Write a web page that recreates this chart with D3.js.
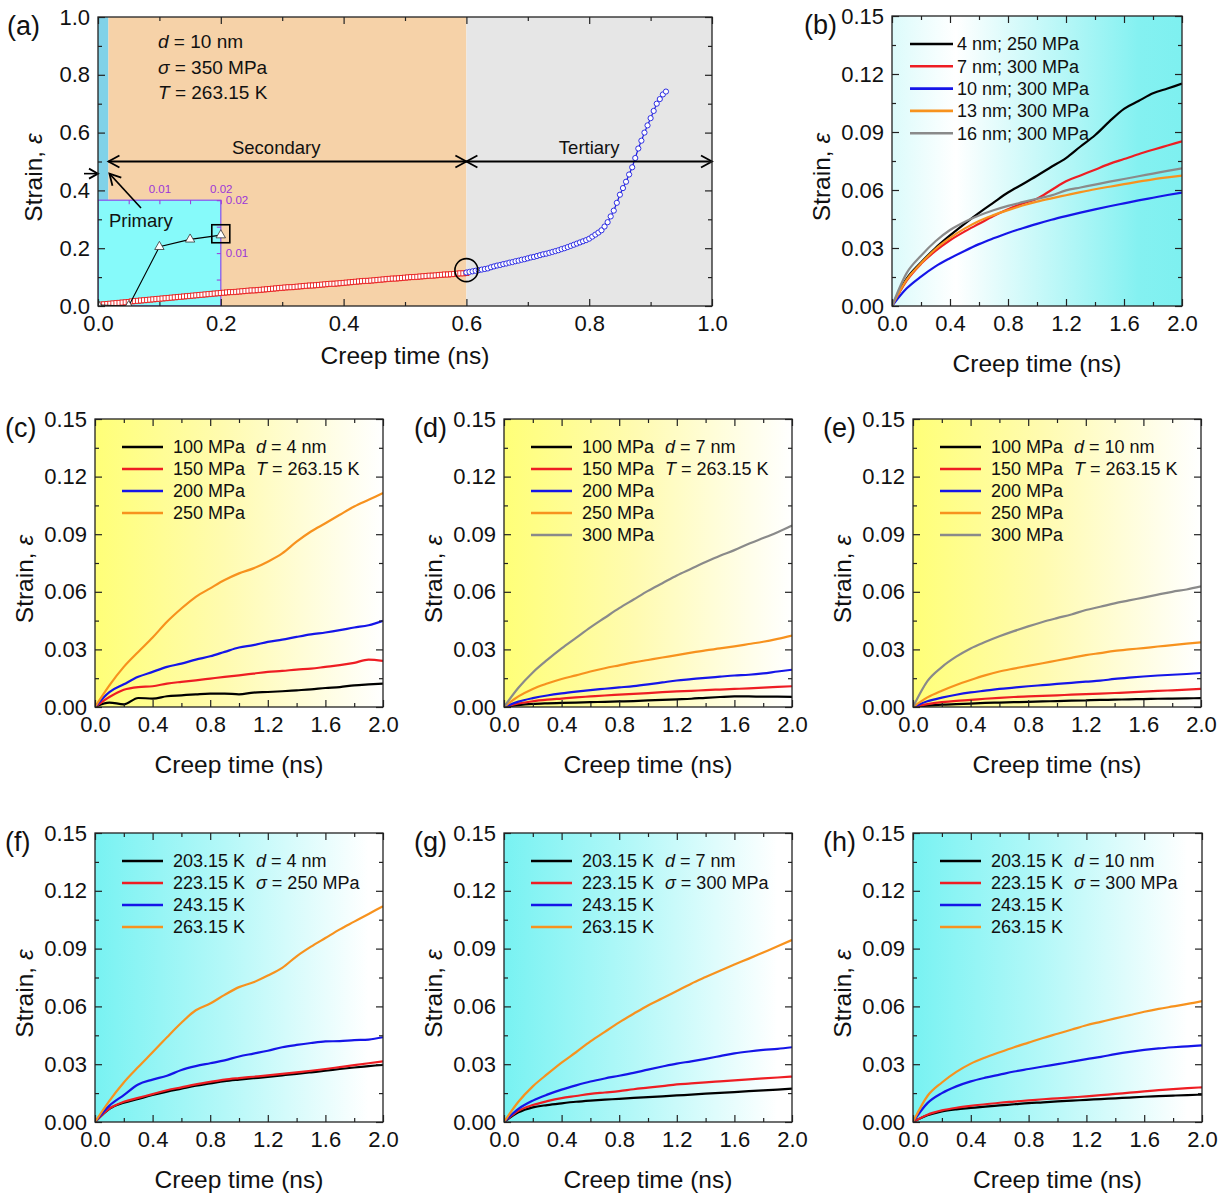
<!DOCTYPE html>
<html><head><meta charset="utf-8">
<script src="https://cdn.jsdelivr.net/npm/d3@7"></script>
<style>
body{margin:0;background:#fff}
text{font-family:"Liberation Sans",Arial,Helvetica,sans-serif}
</style>
</head><body><script>
// ---------------- DATA ----------------
// Panel (a): secondary stage (red squares) sampled every 0.005 ns from 0
const aDt = 0.005;
const aSecondary = [0.004,0.005,0.006,0.007,0.008,0.009,0.010,0.011,0.012,0.013,0.014,0.016,0.017,0.018,0.019,0.020,0.021,0.022,0.023,0.024,0.025,
0.026,0.027,0.028,0.029,0.030,0.031,0.032,0.033,0.034,0.035,0.036,0.037,0.038,0.039,0.040,0.041,0.042,0.043,0.044,0.045,
0.046,0.047,0.048,0.048,0.049,0.050,0.051,0.052,0.053,0.054,0.054,0.055,0.056,0.057,0.058,0.059,0.060,0.061,0.062,0.063,
0.064,0.065,0.065,0.066,0.067,0.068,0.069,0.070,0.071,0.071,0.072,0.073,0.074,0.075,0.076,0.077,0.077,0.078,0.079,0.080,
0.081,0.082,0.083,0.084,0.085,0.086,0.087,0.087,0.088,0.089,0.090,0.091,0.092,0.093,0.094,0.095,0.095,0.096,0.097,0.098,
0.099,0.100,0.100,0.101,0.102,0.103,0.104,0.105,0.105,0.106,0.107,0.108,0.109,0.109,0.110,0.111,0.112,0.113,0.113,0.114];
// Panel (a): tertiary stage (blue circles) sampled every 0.005 ns from 0.6 ns
const aTertStart = 0.6;
const aTertiary = [0.116,0.118,0.120,0.122,0.124,0.126,0.128,0.130,0.134,0.137,0.140,0.142,0.145,0.147,0.150,0.152,0.155,0.157,0.160,0.162,
0.165,0.168,0.170,0.173,0.176,0.179,0.181,0.184,0.187,0.190,0.193,0.197,0.200,0.204,0.208,0.212,0.216,0.220,0.224,0.228,
0.233,0.240,0.247,0.254,0.262,0.275,0.290,0.310,0.330,0.357,0.385,0.408,0.430,0.455,0.480,0.512,0.545,0.572,0.600,0.625,
0.650,0.675,0.700,0.716,0.732,0.742];
// Panel (a) inset: primary stage
const insetTime = [0, 0.005, 0.01, 0.015, 0.02];
const insetStrain = [0.0002, 0, 0.0112, 0.0126, 0.0134];

// Common time grid (ns) for panels (b)-(h)
const tGrid = [0,0.1,0.2,0.3,0.4,0.5,0.6,0.7,0.8,0.9,1.0,1.1,1.2,1.3,1.4,1.5,1.6,1.7,1.8,1.9,2.0];

// Panel (b)
const bLabels = ["4 nm; 250 MPa","7 nm; 300 MPa","10 nm; 300 MPa","13 nm; 300 MPa","16 nm; 300 MPa"];
const b4  = [0,0.0140,0.0225,0.0300,0.0365,0.0425,0.0482,0.0535,0.0587,0.0630,0.0674,0.0720,0.0765,0.0825,0.0883,0.0955,0.1020,0.1060,0.1100,0.1125,0.1150];
const b7  = [0,0.0130,0.0218,0.0285,0.0340,0.0385,0.0425,0.0465,0.0500,0.0530,0.0555,0.0600,0.0645,0.0675,0.0705,0.0735,0.0760,0.0785,0.0808,0.0830,0.0852];
const b10 = [0,0.0090,0.0152,0.0205,0.0247,0.0285,0.0320,0.0350,0.0378,0.0402,0.0425,0.0446,0.0465,0.0483,0.0500,0.0516,0.0531,0.0546,0.0560,0.0574,0.0587];
const b13 = [0,0.0135,0.0221,0.0295,0.0352,0.0400,0.0440,0.0470,0.0496,0.0520,0.0540,0.0557,0.0573,0.0589,0.0604,0.0617,0.0630,0.0643,0.0655,0.0665,0.0674];
const b16 = [0,0.0169,0.0260,0.0335,0.0393,0.0435,0.0468,0.0495,0.0518,0.0537,0.0555,0.0572,0.0598,0.0613,0.0628,0.0643,0.0657,0.0671,0.0685,0.0699,0.0712];

// Panels (c)-(e): stress series
const stressLabels = ["100 MPa","150 MPa","200 MPa","250 MPa","300 MPa"];
const c100 = [0,0.0023,0.0014,0.0047,0.0044,0.0056,0.0061,0.0066,0.0070,0.0070,0.0066,0.0075,0.0078,0.0082,0.0087,0.0092,0.0099,0.0104,0.0113,0.0118,0.0122];
const c150 = [0,0.0052,0.0090,0.0104,0.0108,0.0122,0.0131,0.0139,0.0148,0.0157,0.0165,0.0174,0.0183,0.0188,0.0195,0.0200,0.0209,0.0218,0.0230,0.0247,0.0240];
const c200 = [0,0.0078,0.0118,0.0157,0.0183,0.0209,0.0226,0.0247,0.0264,0.0287,0.0310,0.0322,0.0339,0.0351,0.0365,0.0378,0.0388,0.0400,0.0414,0.0426,0.0449];
const c250 = [0,0.0113,0.0209,0.0287,0.0362,0.0444,0.0513,0.0574,0.0618,0.0661,0.0696,0.0722,0.0757,0.0800,0.0861,0.0914,0.0957,0.1001,0.1044,0.1079,0.1114];

const d100 = [0,0.0010,0.0016,0.0019,0.0021,0.0023,0.0025,0.0027,0.0029,0.0031,0.0034,0.0037,0.0040,0.0043,0.0048,0.0052,0.0055,0.0055,0.0054,0.0054,0.0053];
const d150 = [0,0.0018,0.0030,0.0038,0.0044,0.0050,0.0055,0.0060,0.0064,0.0068,0.0072,0.0077,0.0081,0.0084,0.0088,0.0091,0.0094,0.0097,0.0101,0.0105,0.0108];
const d200 = [0,0.0028,0.0046,0.0060,0.0071,0.0080,0.0088,0.0095,0.0102,0.0109,0.0118,0.0128,0.0138,0.0145,0.0152,0.0158,0.0164,0.0168,0.0175,0.0185,0.0194];
const d250 = [0,0.0055,0.0094,0.0122,0.0146,0.0165,0.0185,0.0202,0.0217,0.0232,0.0245,0.0258,0.0270,0.0283,0.0295,0.0305,0.0316,0.0328,0.0340,0.0355,0.0372];
const d300 = [0,0.0100,0.0180,0.0245,0.0305,0.0360,0.0415,0.0465,0.0515,0.0560,0.0605,0.0645,0.0685,0.0720,0.0755,0.0788,0.0817,0.0850,0.0880,0.0910,0.0945];

const e100 = [0,0.0007,0.0012,0.0015,0.0018,0.0021,0.0023,0.0025,0.0027,0.0029,0.0031,0.0033,0.0035,0.0037,0.0038,0.0040,0.0041,0.0043,0.0044,0.0045,0.0046];
const e150 = [0,0.0015,0.0025,0.0032,0.0037,0.0043,0.0048,0.0052,0.0055,0.0058,0.0061,0.0064,0.0067,0.0070,0.0073,0.0076,0.0080,0.0084,0.0087,0.0090,0.0094];
const e200 = [0,0.0030,0.0049,0.0064,0.0076,0.0085,0.0094,0.0101,0.0108,0.0114,0.0120,0.0126,0.0132,0.0137,0.0146,0.0153,0.0159,0.0164,0.0168,0.0172,0.0177];
const e250 = [0,0.0050,0.0085,0.0115,0.0141,0.0165,0.0185,0.0200,0.0214,0.0228,0.0242,0.0256,0.0270,0.0281,0.0292,0.0300,0.0307,0.0315,0.0322,0.0330,0.0337];
const e300 = [0,0.0135,0.0208,0.0262,0.0305,0.0338,0.0368,0.0395,0.0420,0.0443,0.0463,0.0482,0.0505,0.0522,0.0540,0.0555,0.0570,0.0585,0.0600,0.0612,0.0628];

// Panels (f)-(h): temperature series
const tempLabels = ["203.15 K","223.15 K","243.15 K","263.15 K"];
const f203 = [0,0.0068,0.0100,0.0120,0.0140,0.0158,0.0173,0.0188,0.0200,0.0212,0.0220,0.0227,0.0234,0.0242,0.0250,0.0258,0.0266,0.0275,0.0283,0.0290,0.0297];
const f223 = [0,0.0070,0.0105,0.0125,0.0145,0.0165,0.0180,0.0195,0.0208,0.0220,0.0228,0.0235,0.0242,0.0250,0.0258,0.0266,0.0275,0.0285,0.0295,0.0305,0.0315];
const f243 = [0,0.0085,0.0140,0.0195,0.0220,0.0240,0.0270,0.0290,0.0305,0.0320,0.0340,0.0355,0.0370,0.0388,0.0400,0.0410,0.0418,0.0420,0.0425,0.0428,0.0440];
const f263 = [0,0.0110,0.0205,0.0285,0.0362,0.0440,0.0515,0.0580,0.0615,0.0660,0.0700,0.0725,0.0760,0.0800,0.0860,0.0910,0.0955,0.1000,0.1040,0.1080,0.1120];

const g203 = [0,0.0050,0.0076,0.0088,0.0097,0.0105,0.0111,0.0116,0.0120,0.0125,0.0129,0.0133,0.0138,0.0142,0.0147,0.0151,0.0155,0.0160,0.0164,0.0168,0.0173];
const g223 = [0,0.0058,0.0088,0.0108,0.0124,0.0135,0.0146,0.0153,0.0160,0.0170,0.0178,0.0186,0.0195,0.0200,0.0206,0.0211,0.0216,0.0221,0.0226,0.0231,0.0236];
const g243 = [0,0.0068,0.0111,0.0142,0.0168,0.0190,0.0210,0.0226,0.0240,0.0255,0.0272,0.0288,0.0303,0.0315,0.0328,0.0342,0.0356,0.0366,0.0374,0.0380,0.0388];
const g263 = [0,0.0105,0.0185,0.0248,0.0308,0.0362,0.0418,0.0468,0.0517,0.0562,0.0605,0.0642,0.0680,0.0718,0.0752,0.0785,0.0817,0.0848,0.0880,0.0912,0.0945];

const h203 = [0,0.0035,0.0055,0.0066,0.0073,0.0080,0.0086,0.0092,0.0098,0.0102,0.0107,0.0111,0.0115,0.0119,0.0123,0.0127,0.0131,0.0134,0.0137,0.0140,0.0142];
const h223 = [0,0.0038,0.0060,0.0074,0.0084,0.0092,0.0100,0.0106,0.0112,0.0118,0.0123,0.0128,0.0133,0.0139,0.0146,0.0152,0.0159,0.0165,0.0171,0.0176,0.0180];
const h243 = [0,0.0098,0.0150,0.0185,0.0211,0.0230,0.0246,0.0262,0.0275,0.0288,0.0300,0.0313,0.0326,0.0338,0.0352,0.0364,0.0374,0.0382,0.0388,0.0393,0.0398];
const h263 = [0,0.0135,0.0205,0.0260,0.0303,0.0335,0.0362,0.0388,0.0412,0.0436,0.0458,0.0480,0.0502,0.0520,0.0538,0.0555,0.0572,0.0587,0.0600,0.0613,0.0628];

// Ticks
const aMajor = [0,0.2,0.4,0.6,0.8,1.0];
const aMinor = [0.1,0.3,0.5,0.7,0.9];
const tMajor = [0,0.4,0.8,1.2,1.6,2.0];
const tMinor = [0.2,0.6,1.0,1.4,1.8];
const sMajor = [0,0.03,0.06,0.09,0.12,0.15];
const sMinor = [0.015,0.045,0.075,0.105,0.135];

// ---------------- DRAW ----------------
const colors = {black:"#000000", red:"#ee1d23", blue:"#1515e8", orange:"#f7921e", gray:"#8a8a8a"};
const INK = "#111";
const svg = d3.select("body").append("svg").attr("width",1228).attr("height",1194);
const defs = svg.append("defs");
function grad(id, stops){
  const lg = defs.append("linearGradient").attr("id",id).attr("x1",0).attr("x2",1).attr("y1",0).attr("y2",0);
  stops.forEach(s=>lg.append("stop").attr("offset",s[0]).attr("stop-color",s[1]));
}
grad("gB",[[0,"#dcfbfb"],[0.22,"#ffffff"],[0.85,"#84f1f1"],[1,"#7ef0f0"]]);
grad("gY",[[0,"#ffff78"],[0.45,"#fffbb0"],[1,"#ffffff"]]);
grad("gC",[[0,"#78f2f2"],[0.45,"#b4f8f8"],[0.95,"#ffffff"],[1,"#ffffff"]]);

let clipN = 0;
function panel(p){
  const {box} = p;
  const x = d3.scaleLinear(p.xDomain, [box.l, box.r]);
  const y = d3.scaleLinear(p.yDomain, [box.b, box.t]);
  const g = svg.append("g");
  const cid = "clip"+(clipN++);
  g.append("clipPath").attr("id",cid).append("rect")
    .attr("x",box.l).attr("y",box.t).attr("width",box.r-box.l).attr("height",box.b-box.t);
  if (p.fill) g.append("rect").attr("x",box.l).attr("y",box.t).attr("width",box.r-box.l).attr("height",box.b-box.t).attr("fill",p.fill);
  const inner = g.append("g").attr("clip-path",`url(#${cid})`);
  if (p.content) p.content(inner, x, y, g);
  (p.series||[]).forEach(s=>{
    inner.append("path")
      .datum(tGrid.map((t,i)=>[t,s.values[i]]))
      .attr("fill","none").attr("stroke",s.color).attr("stroke-width",2.2)
      .attr("stroke-linejoin","round")
      .attr("d", d3.line().x(d=>x(d[0])).y(d=>y(d[1])).curve(d3.curveMonotoneX));
  });
  // axes
  const ax = g.append("g").attr("class","axes");
  function styl(sel){ sel.select(".domain").remove(); sel.selectAll("line").attr("stroke","#222").attr("stroke-width",1.2);
    sel.attr("font-size",22).attr("font-family",'"Liberation Sans",Arial,sans-serif'); sel.selectAll("text").attr("fill",INK); }
  ax.append("g").attr("transform",`translate(0,${box.b})`).call(d3.axisBottom(x).tickValues(p.xMajor).tickSize(-7).tickPadding(9).tickFormat(d3.format(p.xFmt))).call(styl);
  ax.append("g").attr("transform",`translate(0,${box.b})`).call(d3.axisBottom(x).tickValues(p.xMinor).tickSize(-4).tickFormat("")).call(styl);
  ax.append("g").attr("transform",`translate(0,${box.t})`).call(d3.axisTop(x).tickValues(p.xMajor).tickSize(-7).tickFormat("")).call(styl);
  ax.append("g").attr("transform",`translate(0,${box.t})`).call(d3.axisTop(x).tickValues(p.xMinor).tickSize(-4).tickFormat("")).call(styl);
  ax.append("g").attr("transform",`translate(${box.l},0)`).call(d3.axisLeft(y).tickValues(p.yMajor).tickSize(-7).tickPadding(8).tickFormat(d3.format(p.yFmt))).call(styl);
  ax.append("g").attr("transform",`translate(${box.l},0)`).call(d3.axisLeft(y).tickValues(p.yMinor).tickSize(-4).tickFormat("")).call(styl);
  ax.append("g").attr("transform",`translate(${box.r},0)`).call(d3.axisRight(y).tickValues(p.yMajor).tickSize(-7).tickFormat("")).call(styl);
  ax.append("g").attr("transform",`translate(${box.r},0)`).call(d3.axisRight(y).tickValues(p.yMinor).tickSize(-4).tickFormat("")).call(styl);
  g.append("rect").attr("x",box.l).attr("y",box.t).attr("width",box.r-box.l).attr("height",box.b-box.t)
    .attr("fill","none").attr("stroke","#222").attr("stroke-width",1.3);
  // titles
  g.append("text").attr("x",(box.l+box.r)/2).attr("y",box.b+(p.xtOff||66)).attr("text-anchor","middle")
    .attr("font-size",24.5).attr("fill",INK).text("Creep time (ns)");
  const yt = g.append("text").attr("text-anchor","middle").attr("font-size",24.5).attr("fill",INK)
    .attr("transform",`translate(${box.l-(p.ytOff||62)},${(box.t+box.b)/2+16}) rotate(-90)`);
  yt.append("tspan").text("Strain, ");
  yt.append("tspan").attr("font-style","italic").text("ε");
  g.append("text").attr("x",p.labelPos[0]).attr("y",p.labelPos[1]).attr("font-size",27).attr("fill",INK).text(p.label);
  // legend
  if (p.legend){
    const L = p.legend;
    (p.series||[]).forEach((s,i)=>{
      const yy = box.t + L.y0 + L.dy*i;
      g.append("line").attr("x1",box.l+L.lx0).attr("x2",box.l+L.lx1).attr("y1",yy).attr("y2",yy)
        .attr("stroke",s.color).attr("stroke-width",2.6);
      g.append("text").attr("x",box.l+L.tx).attr("y",yy).attr("dy","0.35em").attr("font-size",18).attr("fill",INK).text(s.label);
    });
    (L.notes||[]).forEach((n,i)=>{
      const t = g.append("text").attr("x",box.l+L.nx).attr("y",box.t+L.y0+L.dy*i).attr("dy","0.35em").attr("font-size",18).attr("fill",INK);
      t.append("tspan").attr("font-style","italic").text(n[0]);
      t.append("tspan").text(n[1]);
    });
  }
  return {g,x,y};
}

function chevron(g, tipX, tipY, angle, len=11, half=6){
  const ca=Math.cos(angle), sa=Math.sin(angle);
  const bx = tipX - len*ca, by = tipY - len*sa;
  const p1=[bx - half*(-sa), by - half*ca], p2=[bx + half*(-sa), by + half*ca];
  g.append("polyline").attr("points",`${p1[0]},${p1[1]} ${tipX},${tipY} ${p2[0]},${p2[1]}`)
    .attr("fill","none").attr("stroke","#000").attr("stroke-width",1.8);
}

// Panel (a)
panel({
  box:{l:98,r:712,t:17,b:306}, xDomain:[0,1], yDomain:[0,1],
  xMajor:aMajor, xMinor:aMinor, yMajor:aMajor, yMinor:aMinor, xFmt:".1f", yFmt:".1f",
  xtOff:58, ytOff:56, label:"(a)", labelPos:[7,35],
  content:(inner,x,y,g)=>{
    inner.append("rect").attr("x",x(0)).attr("y",y(1)).attr("width",x(0.017)-x(0)).attr("height",y(0)-y(1)).attr("fill","#80d2e8");
    inner.append("rect").attr("x",x(0.017)).attr("y",y(1)).attr("width",x(0.6)-x(0.017)).attr("height",y(0)-y(1)).attr("fill","#f6d2a8");
    inner.append("rect").attr("x",x(0.6)).attr("y",y(1)).attr("width",x(1)-x(0.6)).attr("height",y(0)-y(1)).attr("fill","#e6e6e6");
    // inset
    const ix = d3.scaleLinear([0,0.02],[x(0),x(0.2)]);
    const iy = d3.scaleLinear([0,0.02],[y(0),y(0.366)]);
    inner.append("rect").attr("x",ix(0)).attr("y",iy(0.02)).attr("width",ix(0.02)-ix(0)).attr("height",iy(0)-iy(0.02))
      .attr("fill","#86fafa").attr("stroke","#8a5cf0").attr("stroke-width",1.3);
    const purple="#9b35d8";
    const it = g.append("g");
    const istyle = s=>{s.select(".domain").remove(); s.selectAll("line").attr("stroke",purple);
      s.attr("font-size",11.5).attr("font-family",'"Liberation Sans",Arial,sans-serif'); s.selectAll("text").attr("fill",purple);};
    it.append("g").attr("transform",`translate(0,${iy(0.02)})`)
      .call(d3.axisTop(ix).tickValues([0.005,0.01,0.015,0.02]).tickSize(-4).tickPadding(7).tickFormat(d=>[0.01,0.02].includes(d)?d3.format(".2f")(d):""))
      .call(istyle);
    it.append("g").attr("transform",`translate(${ix(0.02)},0)`)
      .call(d3.axisRight(iy).tickValues([0.005,0.01,0.015,0.02]).tickSize(-4).tickPadding(5).tickFormat(d=>[0.01,0.02].includes(d)?d3.format(".2f")(d):""))
      .call(istyle);
    // secondary (red squares)
    const sec = aSecondary.map((v,i)=>[i*aDt, v]);
    inner.append("path").datum(sec).attr("fill","none").attr("stroke","#e82020").attr("stroke-width",1)
      .attr("d", d3.line().x(d=>x(d[0])).y(d=>y(d[1])));
    inner.selectAll(".sq").data(sec).join("rect").attr("x",d=>x(d[0])-2.5).attr("y",d=>y(d[1])-2.5)
      .attr("width",5).attr("height",5).attr("fill","#fff").attr("stroke","#e82020").attr("stroke-width",0.9);
    // inset data
    const ins = insetTime.map((t,i)=>[t, insetStrain[i]]);
    inner.append("path").datum(ins).attr("fill","none").attr("stroke","#000").attr("stroke-width",1.1)
      .attr("d", d3.line().x(d=>ix(d[0])).y(d=>iy(d[1])));
    inner.selectAll(".tri").data(ins).join("path")
      .attr("transform",d=>`translate(${ix(d[0])},${iy(d[1])})`)
      .attr("d", d3.symbol(d3.symbolTriangle, 38)).attr("fill","#fff").attr("stroke","#333").attr("stroke-width",0.8);
    // tertiary (blue circles)
    const ter = aTertiary.map((v,i)=>[aTertStart + i*aDt, v]);
    inner.append("path").datum(ter).attr("fill","none").attr("stroke","#1a1ae0").attr("stroke-width",1.2)
      .attr("d", d3.line().x(d=>x(d[0])).y(d=>y(d[1])));
    inner.selectAll(".ci").data(ter).join("circle").attr("cx",d=>x(d[0])).attr("cy",d=>y(d[1])).attr("r",2.6)
      .attr("fill","#fff").attr("stroke","#1a1ae0").attr("stroke-width",0.9);
    // marks
    g.append("rect").attr("x",x(0.2)-9).attr("y",y(0.25)-9).attr("width",18).attr("height",18)
      .attr("fill","none").attr("stroke","#000").attr("stroke-width",1.6);
    g.append("circle").attr("cx",x(0.6)).attr("cy",y(0.124)).attr("r",11.5)
      .attr("fill","none").attr("stroke","#000").attr("stroke-width",1.6);
    // arrows
    const ya = y(0.5);
    g.append("line").attr("x1",x(0.017)).attr("x2",x(0.6)).attr("y1",ya).attr("y2",ya).attr("stroke","#000").attr("stroke-width",1.8);
    g.append("line").attr("x1",x(0.6)).attr("x2",x(1)).attr("y1",ya).attr("y2",ya).attr("stroke","#000").attr("stroke-width",1.8);
    chevron(g, x(0.017), ya, Math.PI);
    chevron(g, x(0.6), ya, 0);
    chevron(g, x(0.6), ya, Math.PI);
    chevron(g, x(1), ya, 0);
    const yl = y(0.458);
    g.append("line").attr("x1",x(0)-14).attr("x2",x(0)).attr("y1",yl).attr("y2",yl).attr("stroke","#000").attr("stroke-width",1.6);
    chevron(g, x(0), yl, 0, 9, 5);
    const p0=[141,208], p1=[x(0.017)+1, y(0.458)];
    g.append("line").attr("x1",p0[0]).attr("y1",p0[1]).attr("x2",p1[0]).attr("y2",p1[1]).attr("stroke","#000").attr("stroke-width",1.6);
    chevron(g, p1[0], p1[1], Math.atan2(p1[1]-p0[1], p1[0]-p0[0]), 11, 6);
    g.append("text").attr("x",x(0.3)-6).attr("y",154).attr("text-anchor","middle").attr("font-size",18.5).attr("fill",INK).text("Secondary");
    g.append("text").attr("x",x(0.8)).attr("y",154).attr("text-anchor","middle").attr("font-size",18.5).attr("fill",INK).text("Tertiary");
    g.append("text").attr("x",109).attr("y",227).attr("font-size",18.5).attr("fill",INK).text("Primary");
    const notes = [["d"," = 10 nm",48],["σ"," = 350 MPa",74],["T"," = 263.15 K",99]];
    notes.forEach(n=>{
      const t = g.append("text").attr("x",158).attr("y",n[2]).attr("font-size",19).attr("fill",INK);
      t.append("tspan").attr("font-style","italic").text(n[0]);
      t.append("tspan").text(n[1]);
    });
  }
});

// Panel (b)
panel({
  box:{l:892,r:1182,t:16,b:306}, xDomain:[0,2], yDomain:[0,0.15], fill:"url(#gB)",
  xMajor:tMajor, xMinor:tMinor, yMajor:sMajor, yMinor:sMinor, xFmt:".1f", yFmt:".2f",
  label:"(b)", labelPos:[804,34],
  series:[{label:bLabels[0],values:b4,color:colors.black},{label:bLabels[1],values:b7,color:colors.red},
          {label:bLabels[2],values:b10,color:colors.blue},{label:bLabels[3],values:b13,color:colors.orange},
          {label:bLabels[4],values:b16,color:colors.gray}],
  legend:{y0:28,dy:22.3,lx0:18,lx1:61,tx:65}
});

// Panels (c)-(e)
const rowLeg = (notes)=>({y0:28,dy:22,lx0:27,lx1:68,tx:78,nx:161,notes});
panel({
  box:{l:95,r:383,t:419,b:707}, xDomain:[0,2], yDomain:[0,0.15], fill:"url(#gY)",
  xMajor:tMajor, xMinor:tMinor, yMajor:sMajor, yMinor:sMinor, xFmt:".1f", yFmt:".2f",
  label:"(c)", labelPos:[5,437],
  series:[{label:stressLabels[0],values:c100,color:colors.black},{label:stressLabels[1],values:c150,color:colors.red},
          {label:stressLabels[2],values:c200,color:colors.blue},{label:stressLabels[3],values:c250,color:colors.orange}],
  legend:rowLeg([["d"," = 4 nm"],["T"," = 263.15 K"]])
});
panel({
  box:{l:504,r:792,t:419,b:707}, xDomain:[0,2], yDomain:[0,0.15], fill:"url(#gY)",
  xMajor:tMajor, xMinor:tMinor, yMajor:sMajor, yMinor:sMinor, xFmt:".1f", yFmt:".2f",
  label:"(d)", labelPos:[414,437],
  series:[{label:stressLabels[0],values:d100,color:colors.black},{label:stressLabels[1],values:d150,color:colors.red},
          {label:stressLabels[2],values:d200,color:colors.blue},{label:stressLabels[3],values:d250,color:colors.orange},
          {label:stressLabels[4],values:d300,color:colors.gray}],
  legend:rowLeg([["d"," = 7 nm"],["T"," = 263.15 K"]])
});
panel({
  box:{l:913,r:1201,t:419,b:707}, xDomain:[0,2], yDomain:[0,0.15], fill:"url(#gY)",
  xMajor:tMajor, xMinor:tMinor, yMajor:sMajor, yMinor:sMinor, xFmt:".1f", yFmt:".2f",
  label:"(e)", labelPos:[823,437],
  series:[{label:stressLabels[0],values:e100,color:colors.black},{label:stressLabels[1],values:e150,color:colors.red},
          {label:stressLabels[2],values:e200,color:colors.blue},{label:stressLabels[3],values:e250,color:colors.orange},
          {label:stressLabels[4],values:e300,color:colors.gray}],
  legend:rowLeg([["d"," = 10 nm"],["T"," = 263.15 K"]])
});

// Panels (f)-(h)
panel({
  box:{l:95,r:383,t:833,b:1122}, xDomain:[0,2], yDomain:[0,0.15], fill:"url(#gC)",
  xMajor:tMajor, xMinor:tMinor, yMajor:sMajor, yMinor:sMinor, xFmt:".1f", yFmt:".2f",
  label:"(f)", labelPos:[5,851],
  series:[{label:tempLabels[0],values:f203,color:colors.black},{label:tempLabels[1],values:f223,color:colors.red},
          {label:tempLabels[2],values:f243,color:colors.blue},{label:tempLabels[3],values:f263,color:colors.orange}],
  legend:rowLeg([["d"," = 4 nm"],["σ"," = 250 MPa"]])
});
panel({
  box:{l:504,r:792,t:833,b:1122}, xDomain:[0,2], yDomain:[0,0.15], fill:"url(#gC)",
  xMajor:tMajor, xMinor:tMinor, yMajor:sMajor, yMinor:sMinor, xFmt:".1f", yFmt:".2f",
  label:"(g)", labelPos:[414,851],
  series:[{label:tempLabels[0],values:g203,color:colors.black},{label:tempLabels[1],values:g223,color:colors.red},
          {label:tempLabels[2],values:g243,color:colors.blue},{label:tempLabels[3],values:g263,color:colors.orange}],
  legend:rowLeg([["d"," = 7 nm"],["σ"," = 300 MPa"]])
});
panel({
  box:{l:913,r:1202,t:833,b:1122}, xDomain:[0,2], yDomain:[0,0.15], fill:"url(#gC)",
  xMajor:tMajor, xMinor:tMinor, yMajor:sMajor, yMinor:sMinor, xFmt:".1f", yFmt:".2f",
  label:"(h)", labelPos:[823,851],
  series:[{label:tempLabels[0],values:h203,color:colors.black},{label:tempLabels[1],values:h223,color:colors.red},
          {label:tempLabels[2],values:h243,color:colors.blue},{label:tempLabels[3],values:h263,color:colors.orange}],
  legend:rowLeg([["d"," = 10 nm"],["σ"," = 300 MPa"]])
});
</script></body></html>
